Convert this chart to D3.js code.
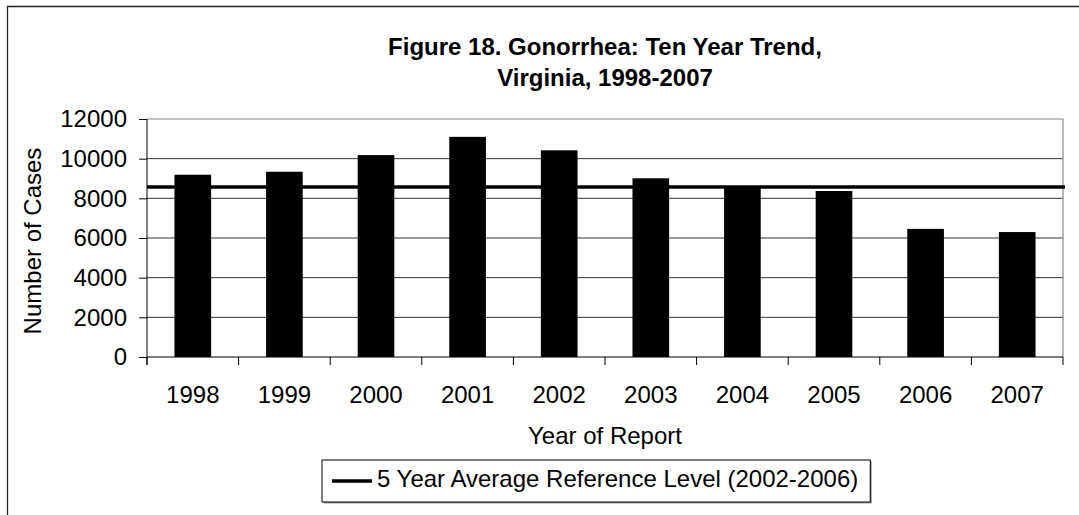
<!DOCTYPE html>
<html>
<head>
<meta charset="utf-8">
<script src="https://cdn.jsdelivr.net/npm/d3@7"></script>
<style>
  html, body { margin: 0; padding: 0; background: #fff; }
  svg { display: block; }
  text { font-family: "Liberation Sans", Arial, sans-serif; fill: #000; }
</style>
</head>
<body>
<svg id="chart" width="1079" height="515"></svg>
<script>
// Gonorrhea cases reported in Virginia, 1998-2007
const years = ["1998", "1999", "2000", "2001", "2002", "2003", "2004", "2005", "2006", "2007"];
const cases = [9190, 9340, 10180, 11100, 10420, 9010, 8580, 8370, 6460, 6300];
// 5 year average reference level (2002-2006)
const referenceLevel = [8570];
const yTicks = [0, 2000, 4000, 6000, 8000, 10000, 12000];
const titleLines = ["Figure 18. Gonorrhea: Ten Year Trend,", "Virginia, 1998-2007"];
const xTitle = "Year of Report";
const yTitle = "Number of Cases";
const legendLabel = "5 Year Average Reference Level (2002-2006)";

const svg = d3.select("#chart");
const W = 1079, H = 515;
const plot = { left: 147, right: 1063, top: 119, bottom: 357 };

// outer frame (only top and left edges fall inside the canvas)
svg.append("path")
  .attr("d", `M7.5,${H} V6.5 H${W}`)
  .attr("fill", "none").attr("stroke", "#222").attr("stroke-width", 1.3);

const x = d3.scaleBand()
  .domain(years)
  .range([plot.left, plot.right])
  .paddingInner(0.6)
  .paddingOuter(0.3);

const y = d3.scaleLinear()
  .domain([0, 12000])
  .range([plot.bottom, plot.top]);

// gridlines
svg.append("g").selectAll("line")
  .data(yTicks.filter(d => d > 0 && d < 12000))
  .join("line")
  .attr("x1", plot.left).attr("x2", plot.right)
  .attr("y1", d => y(d)).attr("y2", d => y(d))
  .attr("stroke", "#333").attr("stroke-width", 1);

// plot area top and right edges
svg.append("path")
  .attr("d", `M${plot.left},${y(12000)} H${plot.right} V${plot.bottom}`)
  .attr("fill", "none").attr("stroke", "#888").attr("stroke-width", 1.2);

// bars
svg.append("g").selectAll("rect")
  .data(years.map((yr, i) => ({ yr, v: cases[i] })))
  .join("rect")
  .attr("x", d => x(d.yr))
  .attr("width", x.bandwidth())
  .attr("y", d => y(d.v))
  .attr("height", d => y(0) - y(d.v))
  .attr("fill", "#000");

// reference level line
svg.append("line")
  .attr("x1", plot.left).attr("x2", plot.right + 2)
  .attr("y1", y(referenceLevel[0])).attr("y2", y(referenceLevel[0]))
  .attr("stroke", "#000").attr("stroke-width", 3.5);

// y axis
const yAxis = d3.axisLeft(y).tickValues(yTicks).tickSize(8).tickPadding(12).tickFormat(d3.format("d"));
const gy = svg.append("g").attr("transform", `translate(${plot.left},0)`).call(yAxis);
gy.select(".domain").attr("d", `M-0,${plot.top}V${plot.bottom + 8}`).attr("stroke", "#000");
gy.selectAll(".tick line").attr("stroke", "#000");
gy.selectAll(".tick text").attr("font-size", 24).attr("font-family", "Liberation Sans, Arial, sans-serif");

// x axis with ticks between categories
const xAxis = d3.axisBottom(x).tickSize(0).tickPadding(29);
const gx = svg.append("g").attr("transform", `translate(0,${plot.bottom})`).call(xAxis);
gx.select(".domain").attr("d", `M${plot.left},0H${plot.right}`).attr("stroke", "#000");
gx.selectAll(".tick text").attr("font-size", 24).attr("font-family", "Liberation Sans, Arial, sans-serif");
const step = x.step();
gx.append("g").selectAll("line")
  .data(d3.range(years.length + 1))
  .join("line")
  .attr("x1", i => plot.left + i * step).attr("x2", i => plot.left + i * step)
  .attr("y1", 0).attr("y2", 8)
  .attr("stroke", "#000");

// title
svg.append("g").selectAll("text")
  .data(titleLines)
  .join("text")
  .attr("x", (plot.left + plot.right) / 2)
  .attr("y", (d, i) => 55 + i * 31)
  .attr("text-anchor", "middle")
  .attr("font-size", 24).attr("font-weight", "bold")
  .text(d => d);

// axis titles
svg.append("text")
  .attr("x", (plot.left + plot.right) / 2).attr("y", 444)
  .attr("text-anchor", "middle").attr("font-size", 24)
  .text(xTitle);

svg.append("text")
  .attr("transform", `translate(41,${(plot.top + plot.bottom) / 2 + 3}) rotate(-90)`)
  .attr("text-anchor", "middle").attr("font-size", 24)
  .text(yTitle);

// legend
const lg = svg.append("g");
const legendText = lg.append("text")
  .attr("x", 377).attr("y", 487)
  .attr("font-size", 24)
  .text(legendLabel);
const tw = legendText.node().getComputedTextLength();
const boxX = 322, boxY = 460, boxH = 42, boxW = (377 - boxX) + tw + 12;
lg.insert("rect", "text")
  .attr("x", boxX + 1.5).attr("y", boxY + 1.5).attr("width", boxW).attr("height", boxH)
  .attr("fill", "#999");
lg.insert("rect", "text")
  .attr("x", boxX).attr("y", boxY).attr("width", boxW).attr("height", boxH)
  .attr("fill", "#fff").attr("stroke", "#000").attr("stroke-width", 1);
lg.append("line")
  .attr("x1", 332).attr("x2", 372)
  .attr("y1", boxY + boxH / 2).attr("y2", boxY + boxH / 2)
  .attr("stroke", "#000").attr("stroke-width", 3.5);
</script>
</body>
</html>
